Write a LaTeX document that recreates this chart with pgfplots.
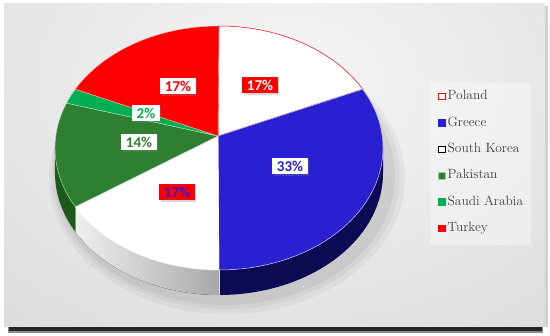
\documentclass[border=0pt]{standalone}
\usepackage{pgfplots}
\pgfplotsset{compat=1.18}
\usepackage{fontspec}
\newfontfamily\labfont{Carlito}
\usetikzlibrary{shadows}

\definecolor{grBlue}{HTML}{2A20D2}
\definecolor{grSide}{HTML}{0B0A52}
\definecolor{pkGreen}{HTML}{2E8030}
\definecolor{pkSide}{HTML}{1C5A1C}
\definecolor{saGreen}{HTML}{00B050}
\definecolor{legText}{HTML}{404040}
\definecolor{panelOut}{HTML}{D2D2D2}
\definecolor{panelIn}{HTML}{F6F6F6}

% pie geometry (axis units = pt): centre 219,188; radii 164 x 122; depth 25
% top slice between two cumulative shares (in %)
\newcommand{\slice}[3]{%
  \fill[#3] (axis cs:218,200) -- (axis cs:{219+164*cos(90-3.6*#1)},{188+122*sin(90-3.6*#1)})
    arc[start angle={90-3.6*#1}, end angle={90-3.6*#2}, x radius=164pt, y radius=122pt] -- cycle;}
% rim between two angles of the front half
\newcommand{\rim}[3]{%
  \fill[#3] (axis cs:{219+164*cos(#1)},{188+122*sin(#1)})
    arc[start angle=#1, end angle=#2, x radius=164pt, y radius=122pt] -- ++(0pt,-25pt)
    arc[start angle=#2, end angle=#1, x radius=164pt, y radius=122pt] -- cycle;}
% share label
\newcommand{\plabel}[5]{%
  \node[fill=#3, text=#4, font=\labfont\bfseries\fontsize{15}{15}\selectfont,
        inner xsep=4.5pt, inner ysep=3.2pt,
        drop shadow={shadow xshift=1.2pt, shadow yshift=-1.2pt, opacity=0.3}]
    at (axis cs:#1,#2) {#5\%};}

\begin{document}
\begin{tikzpicture}
\begin{axis}[
  width=550pt, height=336pt, scale only axis,
  xmin=0, xmax=550, ymin=0, ymax=336,
  hide axis, clip=false,
  legend cell align=left,
  legend image code/.code={\filldraw[#1, line width=1pt] (0.5pt,-3.3pt) rectangle (7.1pt,3.3pt);},
  legend style={at={(0.787,0.752)}, anchor=north west, draw=none, fill=none,
    font=\fontsize{13.4}{15}\selectfont, text=legText,
    inner xsep=5pt, inner ysep=5pt, row sep=10.2pt,
    nodes={inner sep=2pt, text height=9.2pt, text depth=3pt}},
]
% frame and background
\fill[white] (axis cs:0,0) rectangle (axis cs:550,336);
\fill[black!18] (axis cs:544,9) rectangle (axis cs:548,330);
\fill[black!45] (axis cs:8,3) rectangle (axis cs:543,9);
\fill[black!85] (axis cs:9,5) rectangle (axis cs:542,9);
\begin{scope}
  \clip (axis cs:4,9) rectangle (axis cs:545,332);
  \fill[panelOut] (axis cs:4,9) rectangle (axis cs:545,332);
  \shade[inner color=panelIn, outer color=panelOut] (axis cs:290,255) ellipse [x radius=620pt, y radius=440pt];
\end{scope}
\fill[white, opacity=0.35] (axis cs:430,91) rectangle (axis cs:531,253);

% soft shadow under the pie
\fill[black, opacity=0.04] (axis cs:227,158) ellipse [x radius=178pt, y radius=136pt];
\fill[black, opacity=0.04] (axis cs:226,159) ellipse [x radius=174pt, y radius=132pt];
\fill[black, opacity=0.05] (axis cs:225,160) ellipse [x radius=170pt, y radius=129pt];

% rim (front half)
\rim{0}{-90}{grSide}
\rim{-90}{-151.2}{left color=gray!12, right color=gray!68}
\rim{-151.2}{-180}{pkSide}
\draw[white!85!black, line width=0.4pt] (axis cs:219,66) -- (axis cs:219,41);

% top: cumulative shares 0,17,50,67,81,83,100 (Poland, Greece, South Korea, Pakistan, Saudi Arabia, Turkey)
\slice{0}{17}{fill=white, draw=red, line width=0.5pt}
\slice{17}{50}{fill=grBlue, draw=white!75!grBlue, line width=0.5pt}
\slice{50}{67}{fill=white, draw=white}
\slice{67}{81}{fill=pkGreen, draw=white!70!pkGreen, line width=0.4pt}
\slice{81}{83}{fill=saGreen, draw=white!70!saGreen, line width=0.4pt}
\slice{83}{100}{fill=red, draw=white!70!red, line width=0.4pt}

% labels
\plabel{260}{251}{red}{white}{17}
\plabel{290}{170}{white}{grBlue}{33}
\plabel{177}{144}{red}{grBlue}{17}
\plabel{139}{194}{white}{pkGreen}{14}
\plabel{146}{223}{white}{saGreen}{2}
\plabel{178}{250}{white}{red}{17}

\addlegendimage{draw=red, fill=white}
\addlegendentry{Poland}
\addlegendimage{draw=grBlue, fill=grBlue}
\addlegendentry{Greece}
\addlegendimage{draw=black, fill=white}
\addlegendentry{South Korea}
\addlegendimage{draw=white!60!pkGreen, fill=pkGreen}
\addlegendentry{Pakistan}
\addlegendimage{draw=saGreen, fill=saGreen}
\addlegendentry{Saudi Arabia}
\addlegendimage{draw=red, fill=red}
\addlegendentry{Turkey}
\end{axis}
\end{tikzpicture}
\end{document}
